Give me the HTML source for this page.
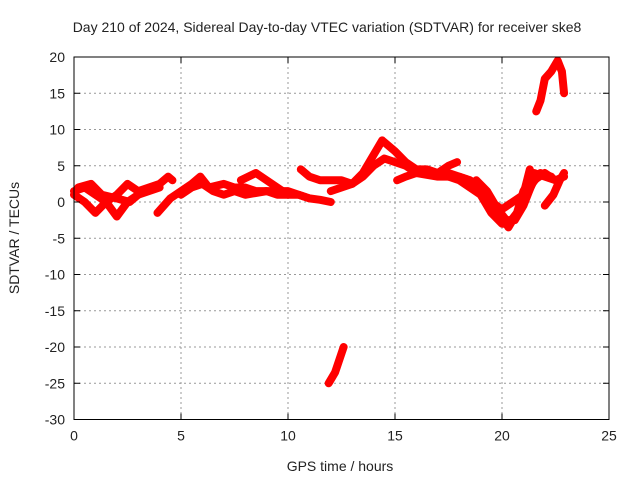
<!DOCTYPE html>
<html><head><meta charset="utf-8"><style>
body{margin:0;background:#fff}
svg text{font-family:"Liberation Sans",sans-serif;font-size:14px;fill:#222}
</style></head><body>
<svg id="chart" width="640" height="480" xmlns="http://www.w3.org/2000/svg">
<rect width="640" height="480" fill="#fff"/>
<text x="327" y="32" text-anchor="middle">Day 210 of 2024, Sidereal Day-to-day VTEC variation (SDTVAR) for receiver ske8</text>
<text x="340" y="471" text-anchor="middle">GPS time / hours</text>
<text transform="translate(19,238) rotate(-90)" text-anchor="middle">SDTVAR / TECUs</text>
<g id="grid"></g><g id="marks"></g><g id="axes"></g>
</svg>
<script>
const xTicks=[0,5,10,15,20,25];
const yTicks=[20,15,10,5,0,-5,-10,-15,-20,-25,-30];
const track1=[[0,1.5],[0.5,2],[1,1],[1.5,0],[2,1],[2.5,2.5],[3,1.5],[3.5,2],[4,2.5],[4.4,3.5],[4.6,3]];
const track2=[[0,1],[0.5,0],[1,-1.5],[1.5,0],[2,-2],[2.5,0],[3,1],[3.5,1.5],[4,2]];
const track3=[[0.2,2],[0.8,2.5],[1.3,1],[2,0.5],[2.6,0],[3.2,1.5]];
const track4=[[3.9,-1.5],[4.5,0.5],[5,1.5],[5.5,2.5],[5.9,3.5],[6.3,2],[7,2.5],[7.5,2],[8,2],[8.5,1.5],[9,1.5],[9.5,1],[10,1],[10.5,1],[11,0.5],[11.5,0.3],[12,0]];
const track5=[[5,1],[5.5,2],[6,2.5],[6.5,1.5],[7,1],[7.5,1.5],[8,1],[9,1.5],[10,1.5],[11,0.5]];
const track6=[[7.8,3],[8.5,4],[9,3],[9.5,2],[10,1]];
const track7=[[10.6,4.5],[11,3.5],[11.5,3],[12,3],[12.5,3],[13,2.5],[13.5,3.5],[14,5],[14.5,6],[15,5.5],[15.5,5],[16,4],[17,3.5],[18,3.5],[18.5,3],[19,2],[19.5,0],[20,-2],[20.3,-3.5],[20.6,-2],[21,0],[21.5,3],[22,4],[22.5,3],[22.9,3.5]];
const track8=[[12,1.5],[12.5,2],[13,2.5],[13.5,4],[14,6.5],[14.4,8.5],[15,7],[15.5,5.5],[16,4.5],[16.5,4.5],[17,4],[17.5,5],[17.9,5.5]];
const track9=[[15.1,3],[15.5,3.5],[16,4],[17,4],[18,3],[18.5,2],[19,1],[19.5,-1.5],[20,-3],[20.3,-3],[20.7,-1.5],[21,1.5],[21.5,4],[22,3.5],[22.5,3]];
const track10=[[17.5,4],[18.5,3],[19,2],[19.5,0],[20,-1],[20.5,0],[21,1],[21.3,4.5]];
const track11=[[22,-0.5],[22.4,1],[22.7,3],[22.9,4]];
const track12=[[21.6,12.5],[21.8,14],[22,17],[22.3,18],[22.6,19.5],[22.8,18],[22.9,15]];
const track13=[[11.9,-25],[12.2,-23.5],[12.6,-20]];
const track14=[[18.8,3],[19.3,1.5],[19.8,-1],[20.2,-2.5],[20.6,-2.5],[21,-0.5],[21.4,2.5],[21.8,4],[22.3,3.5]];
const tracks=[track1,track2,track3,track4,track5,track6,track7,track8,track9,track10,track11,track12,track13,track14];
const L=74,R=609,T=57,B=419.5;
const X=v=>L+(v-0)/25*(R-L);
const Y=v=>T+(20-v)/50*(B-T);
const NS="http://www.w3.org/2000/svg";
function mk(tag,attrs,parent){const e=document.createElementNS(NS,tag);for(const k in attrs)e.setAttribute(k,attrs[k]);parent.appendChild(e);return e;}
const grid=document.getElementById('grid'),axes=document.getElementById('axes'),marks=document.getElementById('marks');
xTicks.forEach(t=>{
 if(t>0&&t<25){const g=mk('line',{x1:X(t),x2:X(t),y1:T,y2:B,stroke:'#999','stroke-dasharray':'2,3'},grid);
 
 }
 mk('line',{x1:X(t),x2:X(t),y1:B,y2:B-6,stroke:'#000'},axes);
 mk('line',{x1:X(t),x2:X(t),y1:T,y2:T+6,stroke:'#000'},axes);
 const tx=mk('text',{x:X(t),y:B+21,'text-anchor':'middle'},axes);tx.textContent=t;
 
 
});
yTicks.forEach(t=>{
 if(t<20&&t>-30){const g=mk('line',{x1:L,x2:R,y1:Y(t),y2:Y(t),stroke:'#999','stroke-dasharray':'2,3'},grid);
 
 }
 mk('line',{x1:L,x2:L+6,y1:Y(t),y2:Y(t),stroke:'#000'},axes);
 mk('line',{x1:R,x2:R-6,y1:Y(t),y2:Y(t),stroke:'#000'},axes);
 const tx=mk('text',{x:L-9,y:Y(t)+5,'text-anchor':'end'},axes);tx.textContent=t;
 
 
});
const fr=mk('rect',{x:L,y:T,width:R-L,height:B-T,fill:'none',stroke:'#000'},axes);


tracks.forEach(tr=>{
 const p=mk('polyline',{points:tr.map(d=>X(d[0])+','+Y(d[1])).join(' '),fill:'none',stroke:'#f00','stroke-width':8,'stroke-linejoin':'round','stroke-linecap':'round'},marks);
 
 
});
</script>
</body></html>
